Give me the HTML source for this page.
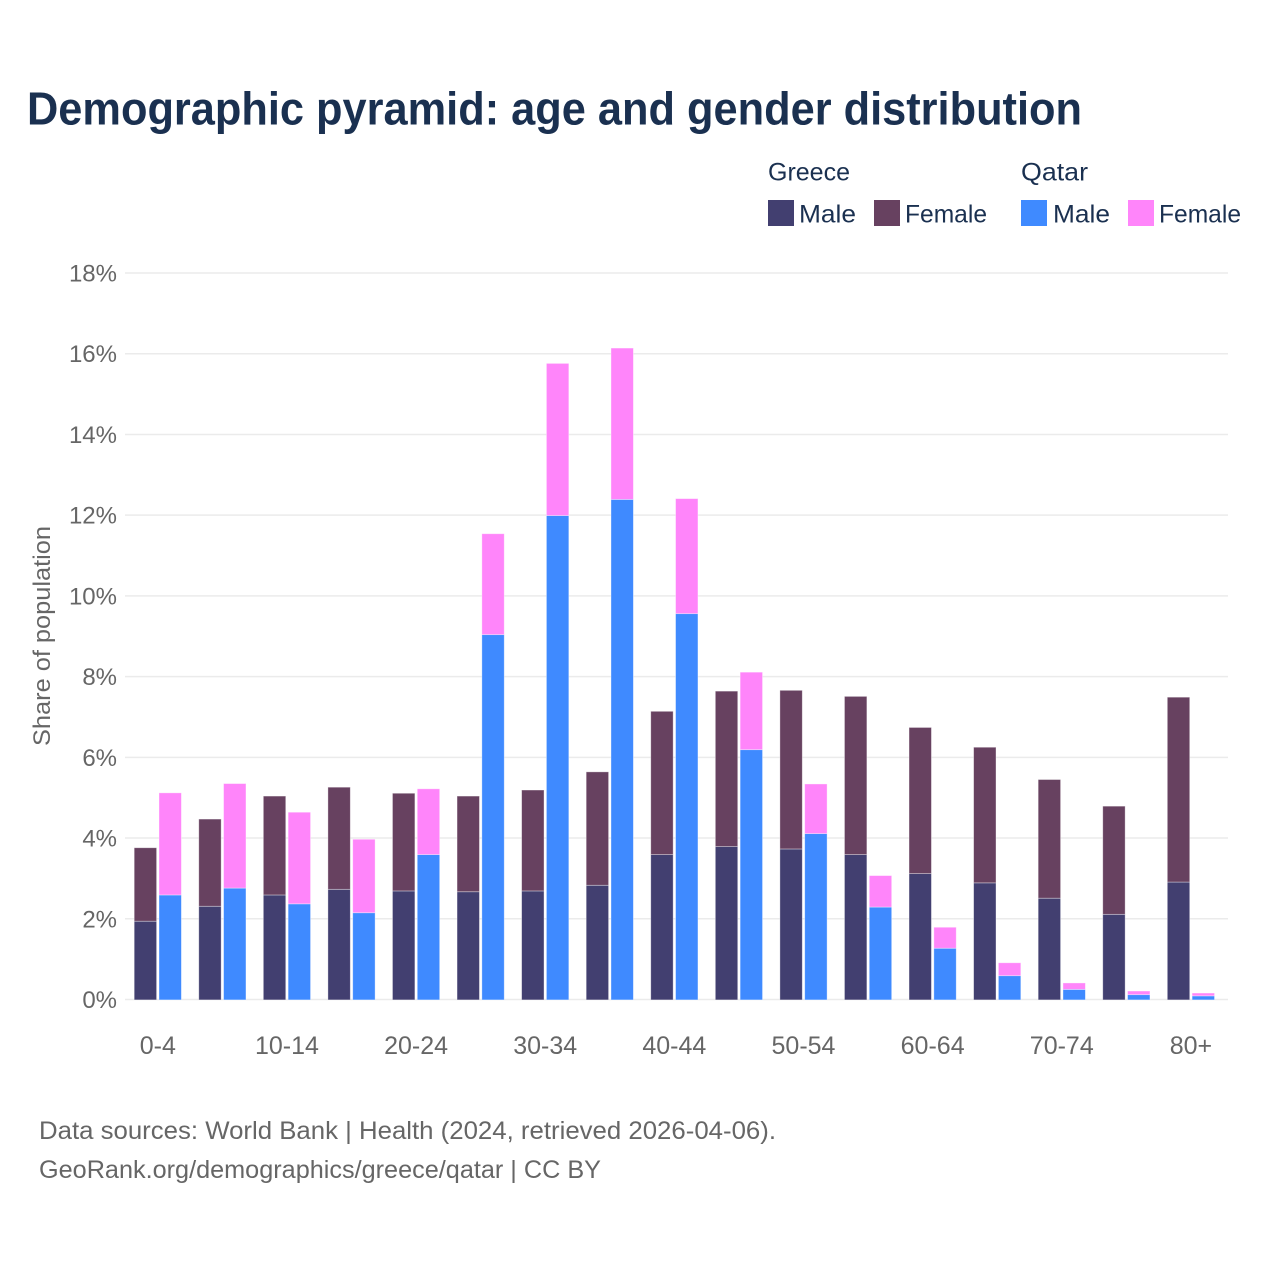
<!DOCTYPE html>
<html lang="en">
<head>
<meta charset="utf-8">
<title>Demographic pyramid: age and gender distribution</title>
<style>
  html, body { margin: 0; padding: 0; background: #fff; }
  svg { display: block; font-family: "Liberation Sans", sans-serif; }
</style>
</head>
<body>
<svg id="chart" xmlns="http://www.w3.org/2000/svg" width="1280" height="1280" viewBox="0 0 1280 1280">
  <rect x="0" y="0" width="1280" height="1280" fill="#ffffff"/>
  <text x="27" y="124.5" font-size="46" font-weight="700" fill="#1a3050" textLength="1055" lengthAdjust="spacingAndGlyphs">Demographic pyramid: age and gender distribution</text>

  <g font-size="25" fill="#1a3050">
    <text x="768" y="180.5" textLength="82" lengthAdjust="spacingAndGlyphs">Greece</text>
    <text x="1021" y="180.5" textLength="67" lengthAdjust="spacingAndGlyphs">Qatar</text>
    <rect x="768" y="200" width="26" height="26" fill="#423f70"/>
    <text x="799" y="222.5" textLength="57" lengthAdjust="spacingAndGlyphs">Male</text>
    <rect x="874" y="200" width="26" height="26" fill="#674160"/>
    <text x="905" y="222.5" textLength="82" lengthAdjust="spacingAndGlyphs">Female</text>
    <rect x="1021" y="200" width="26" height="26" fill="#3f8aff"/>
    <text x="1053" y="222.5" textLength="57" lengthAdjust="spacingAndGlyphs">Male</text>
    <rect x="1128" y="200" width="26" height="26" fill="#ff85fa"/>
    <text x="1159" y="222.5" textLength="82" lengthAdjust="spacingAndGlyphs">Female</text>
  </g>

  <g id="grid"></g>
  <g id="bars"></g>
  <g id="yticks"></g>
  <g id="xticks"></g>

  <text transform="translate(50,636) rotate(-90)" text-anchor="middle" font-size="24" fill="#666666" textLength="220" lengthAdjust="spacingAndGlyphs">Share of population</text>

  <text x="39" y="1139" font-size="25" fill="#666666" textLength="737" lengthAdjust="spacingAndGlyphs">Data sources: World Bank | Health (2024, retrieved 2026-04-06).</text>
  <text x="39" y="1178" font-size="25" fill="#666666" textLength="562" lengthAdjust="spacingAndGlyphs">GeoRank.org/demographics/greece/qatar | CC BY</text>
</svg>

<script>
const ageGroups = ["0-4","5-9","10-14","15-19","20-24","25-29","30-34","35-39","40-44","45-49","50-54","55-59","60-64","65-69","70-74","75-79","80+"];
const ageLabels = ["0-4","","10-14","","20-24","","30-34","","40-44","","50-54","","60-64","","70-74","","80+"];
const greeceMale = [1.95,2.32,2.60,2.74,2.70,2.68,2.70,2.84,3.60,3.80,3.74,3.60,3.13,2.90,2.52,2.12,2.92];
const greeceFemale = [1.82,2.16,2.45,2.53,2.42,2.37,2.50,2.81,3.55,3.85,3.93,3.92,3.62,3.36,2.94,2.68,4.58];
const qatarMale = [2.60,2.77,2.38,2.16,3.60,9.05,12.00,12.40,9.57,6.20,4.12,2.30,1.28,0.60,0.26,0.13,0.10];
const qatarFemale = [2.53,2.59,2.27,1.82,1.63,2.50,3.77,3.75,2.85,1.92,1.23,0.78,0.52,0.32,0.16,0.09,0.07];
const yTickValues = [0,2,4,6,8,10,12,14,16,18];

const NS = "http://www.w3.org/2000/svg";
function yScale(v) { return 999.5 - v * (999.5 - 273) / 18; }
function xScale(i) { return 157.8 + i * 64.57; }
const barWidth = 22.4;
const barOffset = 1.2;
const barNudge = 0.4;

function make(tag, attrs, parent) {
  const el = document.createElementNS(NS, tag);
  for (const k in attrs) el.setAttribute(k, attrs[k]);
  parent.appendChild(el);
  return el;
}

const gridG = document.getElementById("grid");
const yG = document.getElementById("yticks");
const xG = document.getElementById("xticks");
const barsG = document.getElementById("bars");

yTickValues.forEach(function (v) {
  const line = make("line", { x1: 125, x2: 1228, y1: yScale(v), y2: yScale(v), stroke: "#ebebeb", "stroke-width": 1.5 }, gridG);
  
  
  const label = make("text", { x: 117, y: yScale(v) + 8.5, "text-anchor": "end", "font-size": 24, fill: "#666666" }, yG);
  
  
  label.textContent = v + "%";
});

ageLabels.forEach(function (t, i) {
  if (!t) return;
  const label = make("text", { x: xScale(i), y: 1054, "text-anchor": "middle", "font-size": 25, fill: "#666666" }, xG);
  
  
  label.textContent = t;
});

function drawSegment(x, base, value, color) {
  const top = yScale(base + value) + barNudge;
  const rect = make("rect", {
    x: x, y: top, width: barWidth, height: yScale(base) + barNudge - top,
    fill: color, stroke: "#ffffff", "stroke-opacity": 0.45, "stroke-width": 0.8
  }, barsG);
  
  
}

ageGroups.forEach(function (g, i) {
  const xG1 = xScale(i) - barOffset - barWidth;
  const xQ1 = xScale(i) + barOffset;
  drawSegment(xG1, 0, greeceMale[i], "#423f70");
  drawSegment(xG1, greeceMale[i], greeceFemale[i], "#674160");
  drawSegment(xQ1, 0, qatarMale[i], "#3f8aff");
  drawSegment(xQ1, qatarMale[i], qatarFemale[i], "#ff85fa");
});
</script>
</body>
</html>
